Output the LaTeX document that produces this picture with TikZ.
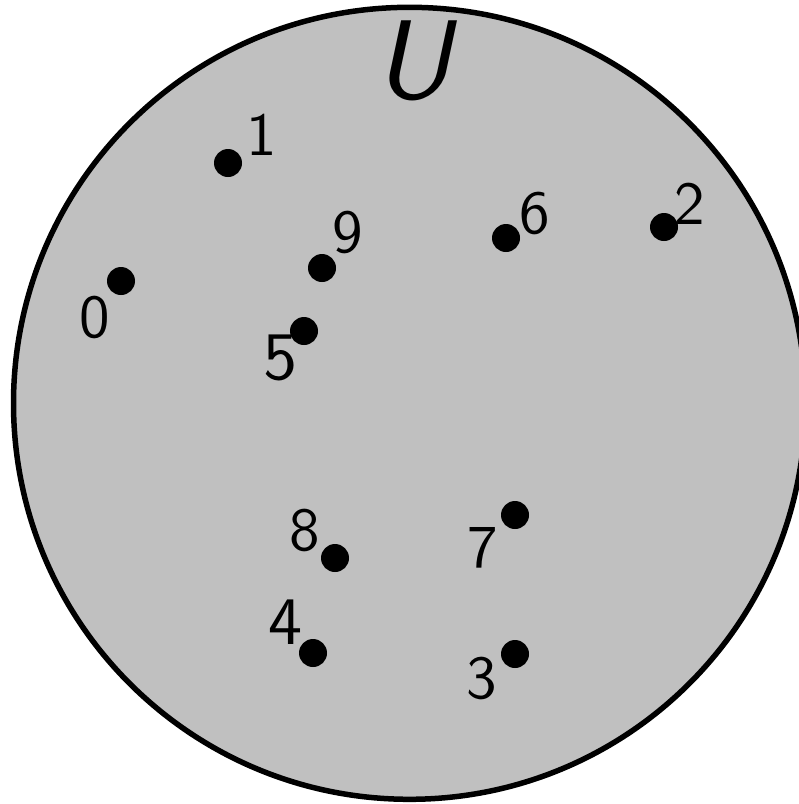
\documentclass[tikz,border=0pt]{standalone}
\font\digfont="[lmsans10-regular.otf]" at 61pt
\font\bigdigfont="[lmsans10-regular.otf]" at 68pt
\font\setfont="[lmsans10-oblique.otf]" at 112pt
\begin{document}
\begin{tikzpicture}[x=1pt,y=-1pt,
  dotnode/.style={circle,fill=black,inner sep=0pt,minimum size=28pt},
  lab/.style={inner sep=0pt,font=\digfont},
  biglab/.style={inner sep=0pt,font=\bigdigfont},
  setlab/.style={inner sep=0pt,font=\setfont}]
\useasboundingbox (0,0) rectangle (799,804);
\begin{scope}
\clip (0,0) rectangle (799,804);
\draw[line width=5.5pt,fill={rgb,255:red,192;green,192;blue,192}] (409.5,403.3) circle[radius=396];
\end{scope}
\node[setlab] (U) at (413,61) {U};
\node[dotnode] (p0) at (121,281) {};
\node[dotnode] (p1) at (228,163) {};
\node[dotnode] (p2) at (664,227) {};
\node[dotnode] (p3) at (515,654) {};
\node[dotnode] (p4) at (313,653) {};
\node[dotnode] (p5) at (304,331) {};
\node[dotnode] (p6) at (506,238) {};
\node[dotnode] (p7) at (515,515) {};
\node[dotnode] (p8) at (335,558) {};
\node[dotnode] (p9) at (322,268) {};
\node[lab] (l0) at (95,317) {0};
\node[lab] (l1) at (262,135) {1};
\node[lab] (l2) at (690,204) {2};
\node[lab] (l3) at (482,678) {3};
\node[biglab] (l4) at (285,622) {4};
\node[biglab] (l5) at (280,358) {5};
\node[lab] (l6) at (535,213) {6};
\node[lab] (l7) at (483,548) {7};
\node[lab] (l8) at (305,530) {8};
\node[lab] (l9) at (348,232) {9};
\end{tikzpicture}
\end{document}
